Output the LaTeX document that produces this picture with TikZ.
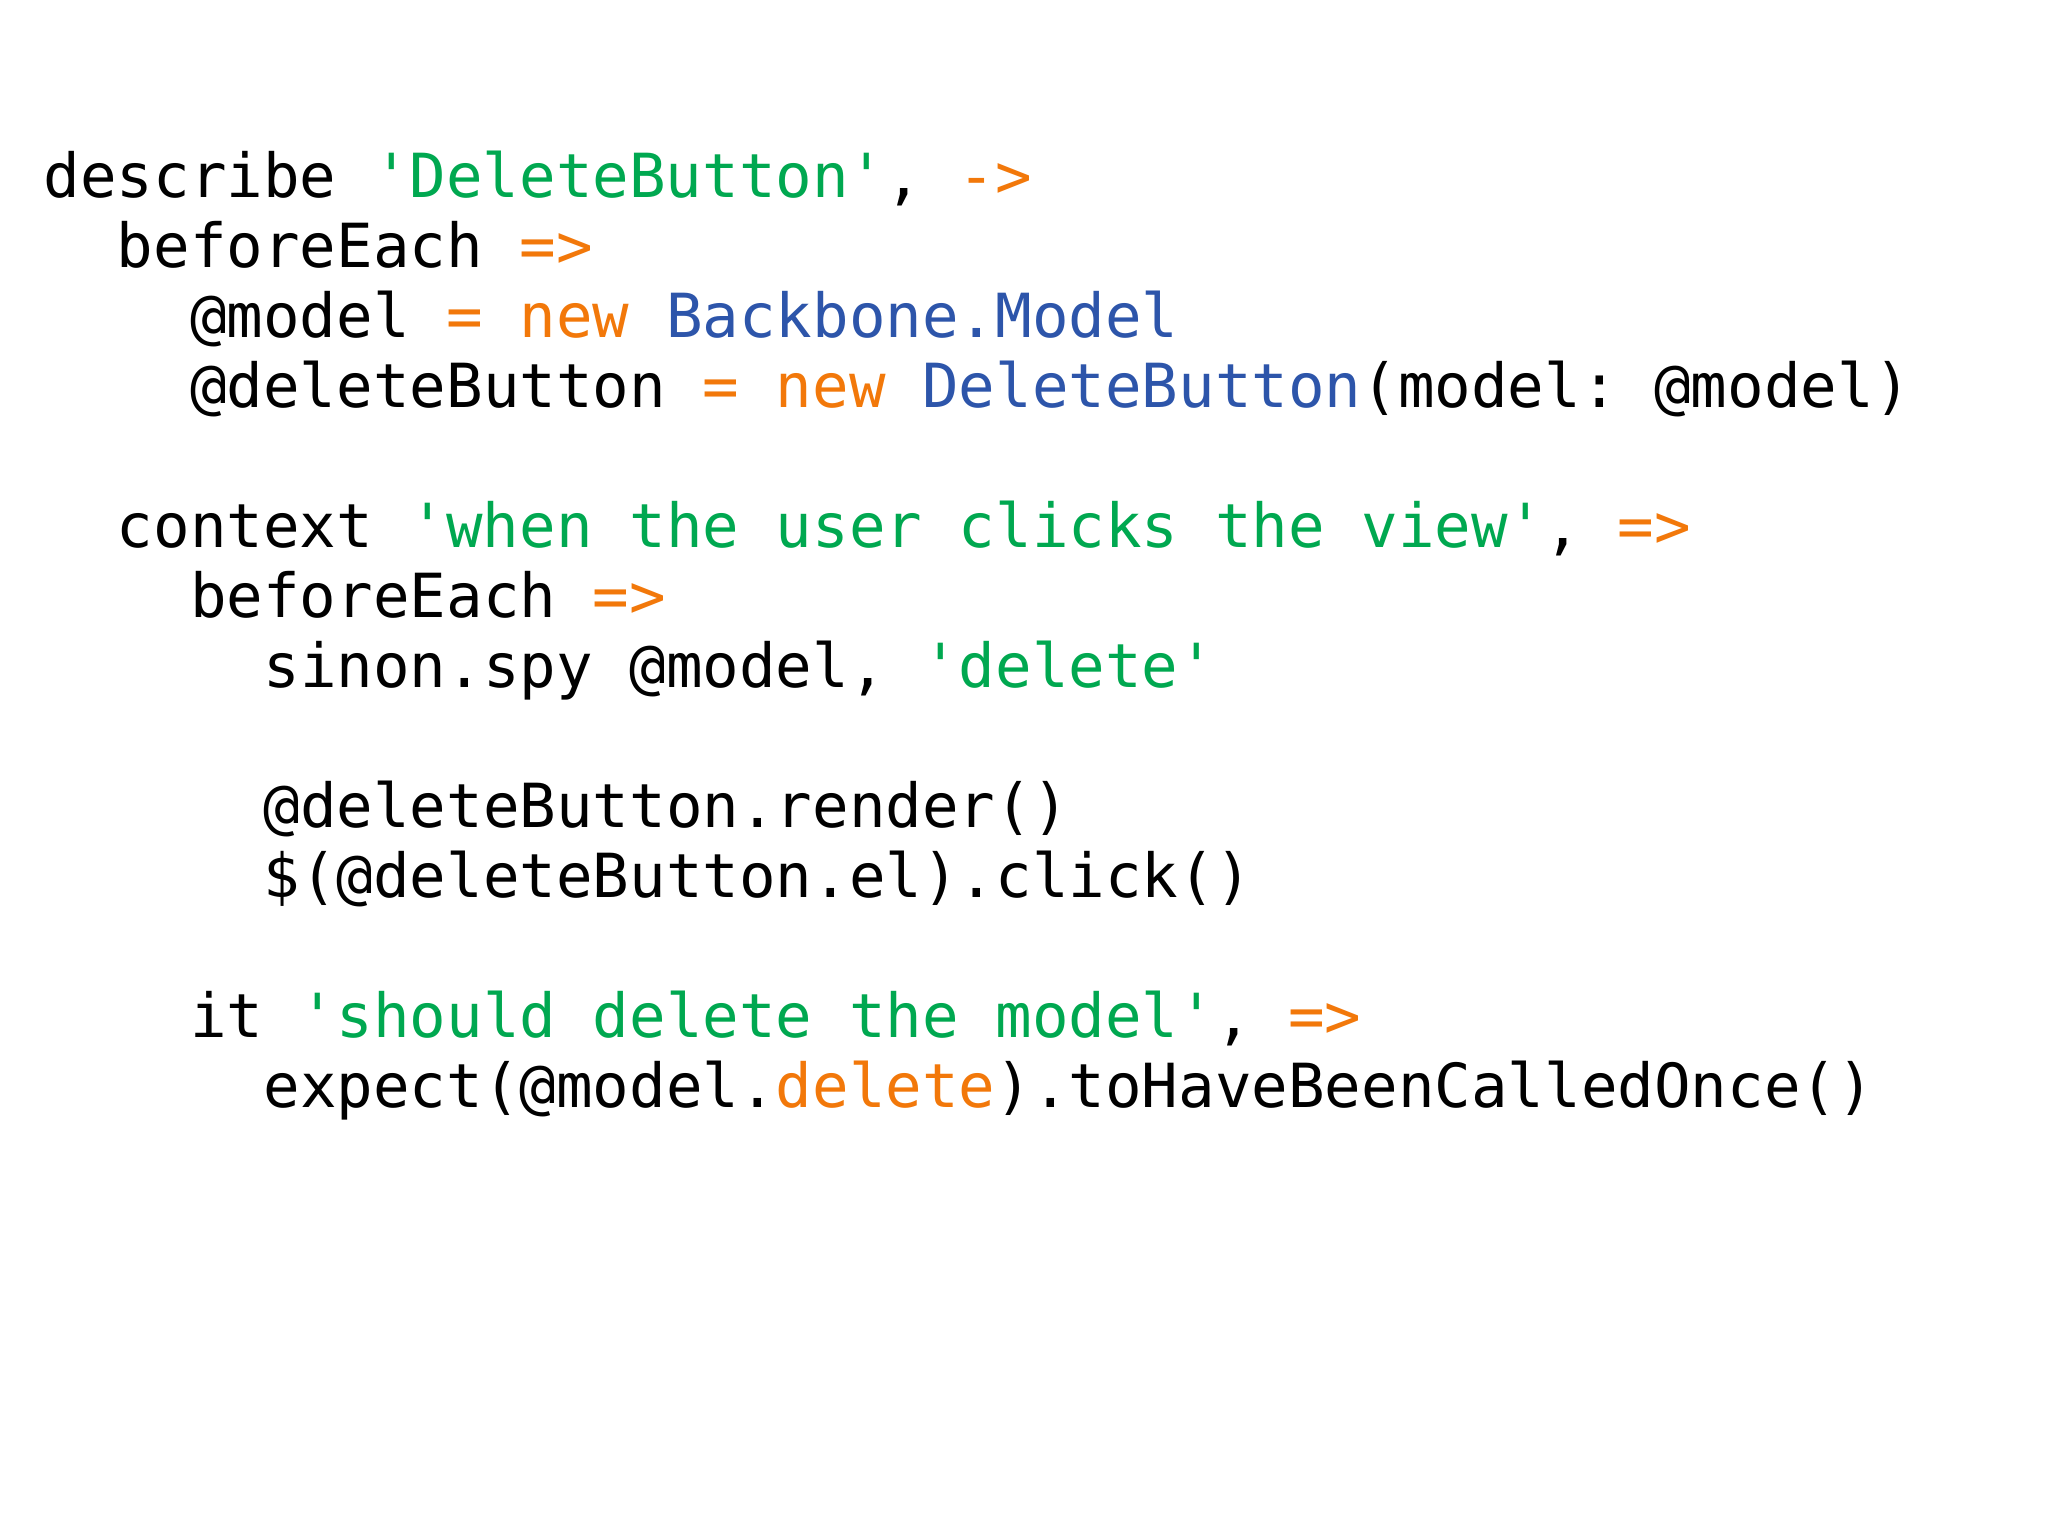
\documentclass[tikz,border=0pt]{standalone}
\usepackage{fontspec}
\setmonofont{DejaVu Sans Mono}
\definecolor{cg}{RGB}{0,168,80}
\definecolor{co}{RGB}{242,120,10}
\definecolor{cb}{RGB}{45,85,170}
\newcommand{\G}[1]{\textcolor{cg}{#1}}
\newcommand{\Or}[1]{\textcolor{co}{#1}}
\newcommand{\B}[1]{\textcolor{cb}{#1}}
\tikzset{codeline/.style={anchor=base west,inner sep=0pt,font=\ttfamily\fontsize{17.3pt}{20pt}\selectfont,text=black}}
\begin{document}
\begin{tikzpicture}[x=1cm,y=1cm]
\useasboundingbox[fill=white] (0,0) rectangle (20.48,15.36);
\def\cw{0.3662}
\def\top{13.38}
\def\ls{0.70}
\node[codeline] (l0) at (0.43+0*\cw,\top-0*\ls) {describe \G{'DeleteButton'}, \Or{->}};
\node[codeline] (l1) at (0.43+2*\cw,\top-1*\ls) {beforeEach \Or{=>}};
\node[codeline] (l2) at (0.43+4*\cw,\top-2*\ls) {@model \Or{= new} \B{Backbone.Model}};
\node[codeline] (l3) at (0.43+4*\cw,\top-3*\ls) {@deleteButton \Or{= new} \B{DeleteButton}(model: @model)};
\node[codeline] (l4) at (0.43+2*\cw,\top-5*\ls) {context \G{'when the user clicks the view'}, \Or{=>}};
\node[codeline] (l5) at (0.43+4*\cw,\top-6*\ls) {beforeEach \Or{=>}};
\node[codeline] (l6) at (0.43+6*\cw,\top-7*\ls) {sinon.spy @model, \G{'delete'}};
\node[codeline] (l7) at (0.43+6*\cw,\top-9*\ls) {@deleteButton.render()};
\node[codeline] (l8) at (0.43+6*\cw,\top-10*\ls) {\$(@deleteButton.el).click()};
\node[codeline] (l9) at (0.43+4*\cw,\top-12*\ls) {it \G{'should delete the model'}, \Or{=>}};
\node[codeline] (l10) at (0.43+6*\cw,\top-13*\ls) {expect(@model.\Or{delete}).toHaveBeenCalledOnce()};
\end{tikzpicture}
\end{document}
